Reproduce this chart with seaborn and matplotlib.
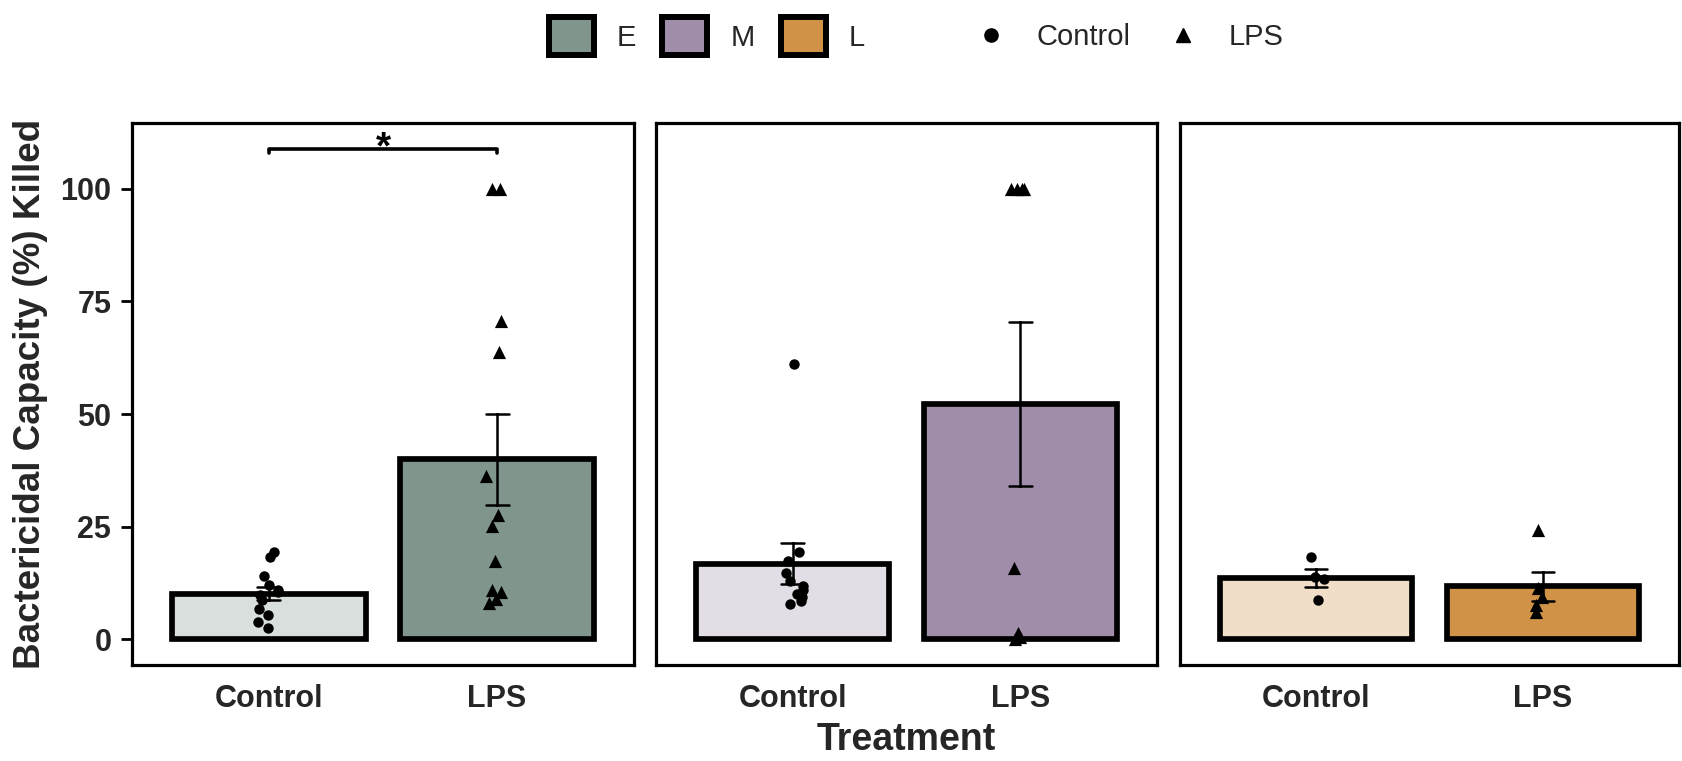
import matplotlib
matplotlib.use("Agg")
import matplotlib.pyplot as plt
import matplotlib.colors as mcolors
import seaborn as sns
import numpy as np
import pandas as pd
from matplotlib.patches import Patch
from matplotlib.lines import Line2D

# ---------------- data ----------------
stages = ["E", "M", "L"]
treatments = ["Control", "LPS"]

E_control = [18.2, 19.3, 14.0, 12.0, 11.0, 10.5, 9.8, 8.8, 6.8, 5.4, 3.8, 2.6]
E_lps = [100, 100, 70.6, 63.7, 36.3, 27.6, 25.2, 17.3, 11.0, 10.5, 9.0, 8.2]
M_control = [61.2, 19.3, 17.5, 14.7, 13.0, 11.8, 11.0, 10.2, 9.5, 8.5, 7.8]
M_lps = [100, 100, 100, 100, 15.9, 1.4, 0.5, 0.0]
L_control = [18.4, 13.8, 13.5, 8.8]
L_lps = [24.3, 11.4, 9.5, 7.65, 6.2]

yticks = [0, 25, 50, 75, 100]
y_label = "Bactericidal Capacity (%) Killed"
x_label = "Treatment"
sig_label = "*"

stage_colors = {"E": "#80958B", "M": "#A08DAA", "L": "#CF9246"}

# ---------------- build table ----------------
raw = {
    ("E", "Control"): E_control, ("E", "LPS"): E_lps,
    ("M", "Control"): M_control, ("M", "LPS"): M_lps,
    ("L", "Control"): L_control, ("L", "LPS"): L_lps,
}
rows = []
for (s, t), vals in raw.items():
    for v in vals:
        rows.append({"Stage": s, "Treatment": t, "Value": v})
df = pd.DataFrame(rows)


def lighten(c, a=0.3):
    r = np.array(mcolors.to_rgb(c))
    return tuple(a * r + (1 - a) * np.ones(3))


# ---------------- style ----------------
sns.set_style("white")
plt.rcParams["font.family"] = ["Liberation Sans", "DejaVu Sans"]

W, H = 1682, 761
fig = plt.figure(figsize=(W / 100, H / 100), dpi=100)

top_px, bot_px = 122.7, 665.0
panels_px = [(132, 634), (656, 1157), (1180, 1679)]
axes = []
for (l, r) in panels_px:
    ax = fig.add_axes([l / W, 1 - bot_px / H, (r - l) / W, (bot_px - top_px) / H])
    axes.append(ax)

np.random.seed(3)
for i, (ax, s) in enumerate(zip(axes, stages)):
    sub = df[df.Stage == s]
    pal = {"Control": lighten(stage_colors[s]), "LPS": stage_colors[s]}
    sns.barplot(data=sub, x="Treatment", y="Value", hue="Treatment",
                order=treatments, hue_order=treatments, palette=pal,
                saturation=1, errorbar="se", capsize=0.1,
                err_kws={"linewidth": 1.8, "color": "black"},
                edgecolor="black", linewidth=4.1, width=0.85,
                legend=False, ax=ax)
    sns.stripplot(data=sub[sub.Treatment == "Control"], x="Treatment", y="Value",
                  order=treatments, color="black", marker="o", size=7.5,
                  jitter=0.05, ax=ax, zorder=4)
    sns.stripplot(data=sub[sub.Treatment == "LPS"], x="Treatment", y="Value",
                  order=treatments, color="black", marker="^", size=9.5,
                  jitter=0.05, ax=ax, zorder=4)
    ax.set_xlim(-0.6, 1.6)
    ax.set_ylim(-5.66, 114.64)
    ax.set_xlabel("")
    ax.set_ylabel("")
    for sp in ax.spines.values():
        sp.set_visible(True)
        sp.set_color("black")
        sp.set_linewidth(2.3)
    ax.tick_params(axis="x", length=0, pad=14, labelsize=22)
    for lab in ax.get_xticklabels():
        lab.set_fontweight("bold")
    ax.set_yticks(yticks)
    if i == 0:
        ax.tick_params(axis="y", length=7.9, width=2, pad=7, labelsize=22,
                       color="black", left=True)
        ax.set_yticklabels([str(v) for v in yticks], fontweight="bold")
    else:
        ax.tick_params(axis="y", left=False, labelleft=False)

# significance bracket
ax1 = axes[0]
ax1.plot([0, 0, 1, 1], [108.0, 108.9, 108.9, 108.0], color="black",
         lw=2.6, solid_capstyle="round", solid_joinstyle="round", zorder=5)
ax1.text(0.5, 106.8, sig_label, ha="center", va="baseline", fontsize=28,
         fontweight="bold", color="black")

# axis titles
ax1.set_ylabel(y_label, fontsize=26.5, fontweight="bold")
ax1.yaxis.set_label_coords((30.5 - 132) / 502, 0.5)
ax1.yaxis.label.set_va("center")
axes[1].set_xlabel(x_label, fontsize=27, fontweight="bold")
axes[1].xaxis.set_label_coords(0.5, (bot_px - 740) / (bot_px - top_px))
axes[1].xaxis.label.set_va("center")

# legends
fs = 21
stage_handles = [Patch(facecolor=stage_colors[s], edgecolor="black", linewidth=4.3)
                 for s in stages]
leg1 = fig.legend(stage_handles, stages, loc="center left",
                  bbox_to_anchor=(548.7 / W, 1 - 36 / H), ncol=3, frameon=False,
                  fontsize=fs, handlelength=1.54, handleheight=1.61,
                  handletextpad=0.79, columnspacing=0.9, borderpad=0,
                  borderaxespad=0)
shape_handles = [Line2D([], [], marker="o", linestyle="None", color="black", markersize=9.5),
                 Line2D([], [], marker="^", linestyle="None", color="black", markersize=10)]
leg2 = fig.legend(shape_handles, treatments, loc="center left",
                  bbox_to_anchor=(961.5 / W, 1 - 37 / H), ncol=2, frameon=False,
                  fontsize=fs, handlelength=2.0, handletextpad=0.57,
                  columnspacing=0.8, borderpad=0, borderaxespad=0)

fig.savefig("out.png", dpi=100)
